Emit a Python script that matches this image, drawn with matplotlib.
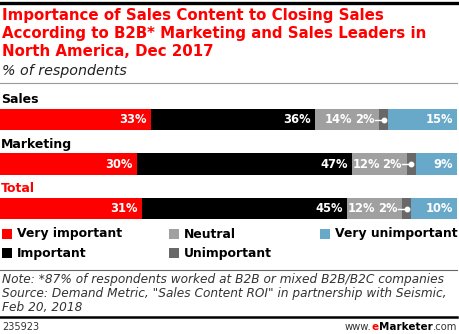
import matplotlib
matplotlib.use("Agg")
import matplotlib.pyplot as plt
from matplotlib.lines import Line2D
from matplotlib.patches import Rectangle
from matplotlib.offsetbox import TextArea, HPacker, AnchoredOffsetbox

categories = ["Sales", "Marketing", "Total"]
series_names = ["Very important", "Important", "Neutral", "Unimportant", "Very unimportant"]
very_important = [33, 30, 31]
important = [36, 47, 45]
neutral = [14, 12, 12]
unimportant = [2, 2, 2]
very_unimportant = [15, 9, 10]
series_values = [very_important, important, neutral, unimportant, very_unimportant]
colors = ["#ff0000", "#000000", "#a0a0a0", "#686868", "#68a8c8"]

W, H = 460, 334
fig = plt.figure(figsize=(W / 100, H / 100), dpi=100)

def fy(py):
    return 1 - py / H

def fx(px):
    return px / W

# rules
fig.add_artist(Line2D([0, 1], [fy(2.5), fy(2.5)], color="black", lw=2.4))
fig.add_artist(Line2D([0, fx(457)], [fy(83), fy(83)], color="#999999", lw=0.8))
fig.add_artist(Line2D([0, fx(457)], [fy(270), fy(270)], color="#666666", lw=0.8))
fig.add_artist(Line2D([0, fx(457)], [fy(317), fy(317)], color="black", lw=1.8))

title = ("Importance of Sales Content to Closing Sales\n"
         "According to B2B* Marketing and Sales Leaders in\n"
         "North America, Dec 2017")
fig.text(fx(2), fy(8), title, color="#ff0000", fontsize=10.8, fontweight="bold",
         va="top", ha="left", linespacing=1.26)
fig.text(fx(2), fy(71), "% of respondents", fontsize=10.3, style="italic",
         va="center", ha="left", color="#222222")

# bars
top_px, unit = 88.35, 44.5
ylo, yhi = -0.7, 2.5
ax = fig.add_axes([0, fy(top_px + (yhi - ylo) * unit), fx(457), (yhi - ylo) * unit / H])
ax.set_xlim(0, 100)
ax.set_ylim(yhi, ylo)
ax.axis("off")

bar_h = 0.48
for i, cat in enumerate(categories):
    left = 0
    starts = []
    for s, vals in enumerate(series_values):
        starts.append(left)
        ax.barh(i, vals[i], left=left, height=bar_h, color=colors[s], edgecolor="none")
        left += vals[i]
    for s, vals in enumerate(series_values):
        v = vals[i]
        l0 = starts[s]
        if s == 3:
            cx = l0 + v / 2
            ax.plot([l0 - 1.0, cx], [i, i], color="white", lw=1.0)
            ax.plot([cx], [i], marker="o", ms=3.2, color="white")
            ax.text(l0 - 1.1, i, f"{v}%", color="white", fontsize=8.3,
                    fontweight="bold", ha="right", va="center")
        elif s == 2:
            ax.text(starts[3] - 5.9, i, f"{v}%", color="white", fontsize=8.3,
                    fontweight="bold", ha="right", va="center")
        else:
            ax.text(l0 + v - 0.9, i, f"{v}%", color="white", fontsize=8.3,
                    fontweight="bold", ha="right", va="center")
    ax.text(0.2, i - 0.44, cat, color="#ff0000" if cat == "Total" else "black",
            fontsize=9, fontweight="bold", ha="left", va="center")

# legend
legend_pos = [(2, 234), (2, 253), (169, 234), (169, 253), (320, 234)]
for s in range(len(series_names)):
    px, py = legend_pos[s]
    fig.add_artist(Rectangle((fx(px), fy(py + 5)), 10 / W, 10 / H,
                             facecolor=colors[s], edgecolor="none",
                             transform=fig.transFigure))
    fig.text(fx(px + 15), fy(py), series_names[s], fontsize=8.9,
             fontweight="bold", va="center", ha="left")

note = ("Note: *87% of respondents worked at B2B or mixed B2B/B2C companies\n"
        "Source: Demand Metric, \"Sales Content ROI\" in partnership with Seismic,\n"
        "Feb 20, 2018")
fig.text(fx(2), fy(273), note, fontsize=8.7, style="italic", color="#333333",
         va="top", ha="left", linespacing=1.12)

fig.text(fx(2), fy(327), "235923", fontsize=7, color="#333333", va="center", ha="left")

parts = [TextArea("www.", textprops=dict(fontsize=7.2, color="#333333")),
         TextArea("e", textprops=dict(fontsize=7.5, color="#ff0000", fontweight="bold")),
         TextArea("Marketer", textprops=dict(fontsize=7.5, color="black", fontweight="bold")),
         TextArea(".com", textprops=dict(fontsize=7.2, color="#333333"))]
box = HPacker(children=parts, align="baseline", pad=0, sep=0)
anch = AnchoredOffsetbox(loc="center right", child=box, pad=0, frameon=False,
                         bbox_to_anchor=(fx(457), fy(327)),
                         bbox_transform=fig.transFigure, borderpad=0)
fig.add_artist(anch)

fig.savefig("out.png", dpi=100)
